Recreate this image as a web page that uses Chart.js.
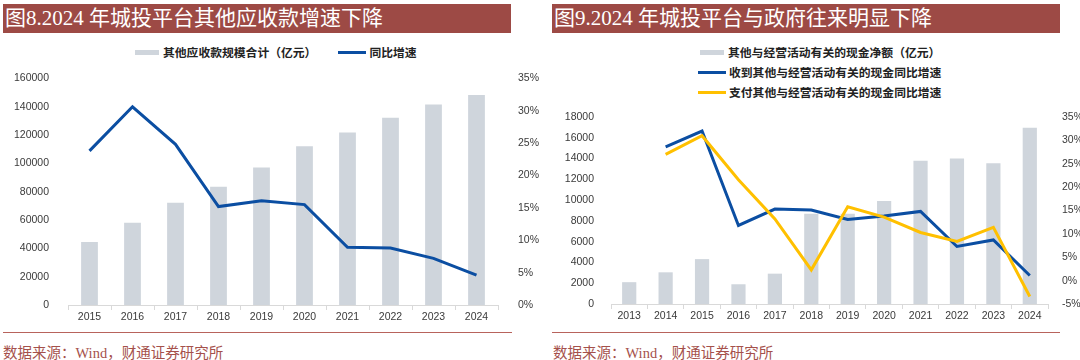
<!DOCTYPE html>
<html>
<head>
<meta charset="utf-8">
<script src="https://cdn.jsdelivr.net/npm/chart.js"></script>
<style>
  body { margin: 0; background: #fff; width: 1080px; height: 360px; position: relative; overflow: hidden; }
  .title { position: absolute; top: 4px; height: 29px; background: #9d4a45; color: #fff;
           font-family: "Liberation Serif", "Noto Sans CJK SC", serif; font-size: 21px; line-height: 29px;
           padding-left: 2px; white-space: nowrap; box-sizing: border-box; }
  .rule { position: absolute; top: 332px; height: 0; border-top: 1.5px solid #b8635c; }
  .source { position: absolute; top: 341px; font-family: "Liberation Serif", "Noto Sans CJK SC", serif;
            font-size: 14.5px; color: #a5514b; white-space: nowrap; }
  .legend { position: absolute; font-family: "Liberation Serif", "Noto Sans CJK SC", serif; font-weight: bold;
            font-size: 11.8px; color: #222; white-space: nowrap; }
  .legend .item { display: flex; align-items: center; height: 20px; }
  .legend .sw { display: inline-block; margin-right: 3px; }
  canvas { position: absolute; }
</style>
</head>
<body>
<div class="title" style="left:3px;width:508px;">图8.2024 年城投平台其他应收款增速下降</div>
<div class="title" style="left:552px;width:508px;">图9.2024 年城投平台与政府往来明显下降</div>

<div class="legend" id="legend1" style="left:133px;top:42px;display:flex;"></div>
<div class="legend" id="legend2" style="left:698px;top:42px;"></div>

<canvas id="chart1" width="540" height="270" style="left:0px;top:60px;"></canvas>
<canvas id="chart2" width="540" height="230" style="left:540px;top:100px;"></canvas>

<div class="rule" style="left:3px;width:509px;"></div>
<div class="rule" style="left:552px;width:508px;"></div>
<div class="source" style="left:3px;">数据来源：Wind，财通证券研究所</div>
<div class="source" style="left:553px;">数据来源：Wind，财通证券研究所</div>

<script>
// left chart data
var years1 = ['2015','2016','2017','2018','2019','2020','2021','2022','2023','2024'];
var receivables = [44500, 58000, 72200, 83500, 97000, 112000, 121700, 132200, 141500, 148300];
var receivablesYoY = [23.8, 30.6, 24.8, 15.2, 16.1, 15.5, 8.9, 8.8, 7.2, 4.6];

// right chart data
var years2 = ['2013','2014','2015','2016','2017','2018','2019','2020','2021','2022','2023','2024'];
var netCash = [2100, 3050, 4320, 1900, 2920, 8680, 8680, 9920, 13790, 14010, 13560, 16960];
var receivedYoY = [null, 28.6, 32.0, 11.8, 15.3, 15.1, 13.1, 13.8, 14.8, 7.3, 8.7, 1.1];
var paidYoY = [null, 27.0, 31.0, 21.6, 13.2, 2.3, 15.8, 13.6, 10.3, 8.4, 11.4, -3.4];

var barColor = '#cfd5dc';
var blue = '#0b4ea2';
var yellow = '#ffc000';
var tickFont = { family: 'Liberation Sans', size: 10.5 };
var tickColor = '#3a3a3a';
var axisGray = '#d9d9d9';

function fixWidth(w) { return function (s) { s.width = w; }; }
function fixHeight(h) { return function (s) { s.height = h; }; }
function plain(v) { return String(v); }
function pct(v) { return v + '%'; }

function buildLegend(id, chart, stacked) {
  var box = document.getElementById(id);
  chart.data.datasets.forEach(function (ds) {
    var item = document.createElement('div');
    item.className = 'item';
    if (!stacked) item.style.marginRight = '22px';
    var sw = document.createElement('span');
    sw.className = 'sw';
    if (ds.type === 'line') {
      sw.style.width = '28px'; sw.style.height = '3px'; sw.style.background = ds.borderColor;
    } else {
      sw.style.width = '24px'; sw.style.height = '5px'; sw.style.background = ds.backgroundColor;
      sw.style.marginLeft = '2px'; sw.style.marginRight = '4px';
    }
    item.appendChild(sw);
    item.appendChild(document.createTextNode(ds.label));
    box.appendChild(item);
  });
}

var ctx1 = document.getElementById('chart1').getContext('2d');
var chart1 = new Chart(ctx1, {
  data: {
    labels: years1,
    datasets: [{
      type: 'bar',
      label: '其他应收款规模合计（亿元）',
      data: receivables,
      backgroundColor: barColor,
      barPercentage: 0.39,
      categoryPercentage: 1,
      yAxisID: 'y',
      order: 2
    }, {
      type: 'line',
      label: '同比增速',
      data: receivablesYoY,
      borderColor: blue,
      borderWidth: 3,
      pointRadius: 0,
      tension: 0,
      yAxisID: 'y1',
      order: 1
    }]
  },
  options: {
    responsive: false,
    animation: false,
    layout: { padding: { top: 17, left: 0, right: 0, bottom: 0 } },
    plugins: { legend: { display: false }, tooltip: { enabled: false } },
    scales: {
      x: {
        grid: { display: true, drawOnChartArea: false, drawTicks: true, tickLength: 5, color: axisGray },
        border: { display: true, color: axisGray },
        ticks: { font: tickFont, color: tickColor, padding: 1, maxRotation: 0 },
        afterFit: fixHeight(25)
      },
      y: {
        position: 'left',
        min: 0, max: 160000,
        grid: { display: false },
        border: { display: false },
        ticks: { stepSize: 20000, font: tickFont, color: tickColor, padding: 11, callback: plain },
        afterFit: fixWidth(68)
      },
      y1: {
        position: 'right',
        min: 0, max: 35,
        grid: { display: false },
        border: { display: false },
        ticks: { stepSize: 5, font: tickFont, color: tickColor, padding: 12, callback: pct },
        afterFit: fixWidth(42)
      }
    }
  }
});
buildLegend('legend1', chart1, false);

var ctx2 = document.getElementById('chart2').getContext('2d');
var chart2 = new Chart(ctx2, {
  data: {
    labels: years2,
    datasets: [{
      type: 'bar',
      label: '其他与经营活动有关的现金净额（亿元）',
      data: netCash,
      backgroundColor: barColor,
      barPercentage: 0.39,
      categoryPercentage: 1,
      yAxisID: 'y',
      order: 3
    }, {
      type: 'line',
      label: '收到其他与经营活动有关的现金同比增速',
      data: receivedYoY,
      borderColor: blue,
      borderWidth: 3,
      pointRadius: 0,
      tension: 0,
      yAxisID: 'y1',
      order: 2
    }, {
      type: 'line',
      label: '支付其他与经营活动有关的现金同比增速',
      data: paidYoY,
      borderColor: yellow,
      borderWidth: 3,
      pointRadius: 0,
      tension: 0,
      yAxisID: 'y1',
      order: 1
    }]
  },
  options: {
    responsive: false,
    animation: false,
    layout: { padding: { top: 17, left: 0, right: 0, bottom: 0 } },
    plugins: { legend: { display: false }, tooltip: { enabled: false } },
    scales: {
      x: {
        grid: { display: true, drawOnChartArea: false, drawTicks: true, tickLength: 5, color: axisGray },
        border: { display: true, color: axisGray },
        ticks: { font: tickFont, color: tickColor, padding: 1, maxRotation: 0, autoSkip: false },
        afterFit: fixHeight(26)
      },
      y: {
        position: 'left',
        min: 0, max: 18000,
        grid: { display: false },
        border: { display: false },
        ticks: { stepSize: 2000, font: tickFont, color: tickColor, padding: 9, callback: plain },
        afterFit: fixWidth(71)
      },
      y1: {
        position: 'right',
        min: -5, max: 35,
        grid: { display: false },
        border: { display: false },
        ticks: { stepSize: 5, font: tickFont, color: tickColor, padding: 6, callback: pct },
        afterFit: fixWidth(32)
      }
    }
  }
});
buildLegend('legend2', chart2, true);
</script>
</body>
</html>
